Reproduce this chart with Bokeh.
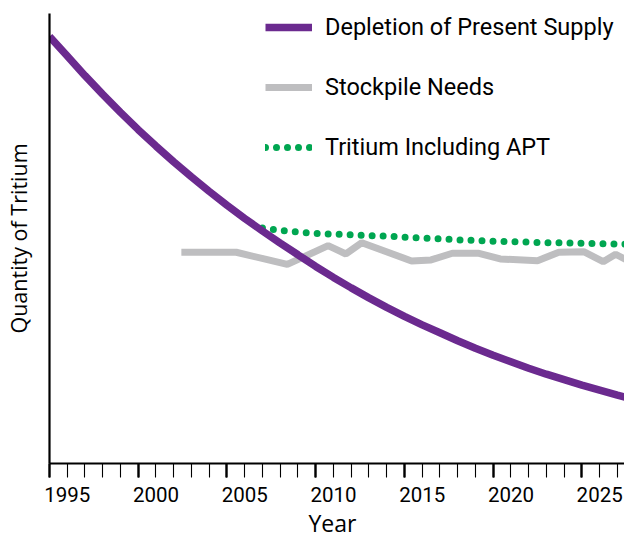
from bokeh.plotting import figure
from bokeh.models import (Range1d, FixedTicker, LinearAxis, Legend, LegendItem, Title)
from bokeh.embed import file_html
from bokeh.resources import INLINE

# ---- data (y in arbitrary "quantity" units) ----
depletion_years = list(range(1995, 2029))
depletion_values = [428.0, 408.4, 388.7, 369.9, 351.9, 334.6, 318.1, 302.3, 287.2, 272.7,
                    258.9, 245.6, 233.0, 220.8, 209.2, 197.5, 186.5, 176.0, 166.0, 156.5,
                    147.5, 139.0, 131.0, 123.0, 115.5, 108.5, 102.0, 95.5, 89.5, 84.0,
                    78.5, 73.5, 68.5, 64.0]

stockpile_years = [2002.43, 2005.52, 2008.4, 2010.7, 2011.7, 2012.6, 2015.4, 2016.5, 2017.7,
                   2019.2, 2020.4, 2022.5, 2023.7, 2025.1, 2026.2, 2026.9, 2027.8]
stockpile_values = [211.7, 211.7, 199.5, 218.3, 210.0, 221.3, 203.0, 204.0, 210.7,
                    210.7, 205.0, 203.3, 211.7, 212.3, 202.3, 209.7, 201.3]

apt_years = [2007.0, 2008.0, 2009.0, 2010, 2012, 2014, 2016, 2018, 2020, 2022, 2024, 2026, 2028]
apt_values = [236.0, 233.5, 232.0, 230.5, 229.2, 227.8, 226.0, 224.2, 222.8, 221.8, 221.0, 220.3, 219.6]

major_ticks = [1995, 2000, 2005, 2010, 2015, 2020, 2025]
minor_ticks = list(range(1995, 2028))
tick_labels = ["1995", "2000", "2005", "2010", "2015", "2020", "2025"]

PURPLE = "#6B2A8F"
GRAY = "#BEBEC0"
GREEN = "#00A651"
COND = "Roboto"
SANS = "Open Sans"

p = figure(width=624, height=538, output_backend="svg", toolbar_location=None,
           x_range=Range1d(1995, 2027.4), y_range=Range1d(0, 451),
           x_axis_type=None, y_axis_type=None,
           min_border_left=41, min_border_right=0, min_border_top=13, min_border_bottom=74)
p.outline_line_color = None
p.xgrid.visible = False
p.ygrid.visible = False

# ---- glyphs ----
r_gray = p.line(stockpile_years, stockpile_values, line_color=GRAY, line_width=7, line_cap="butt")
r_green = p.line(apt_years, apt_values, line_color=GREEN, line_width=7,
                 line_dash="0 11", line_cap="round")
r_purple = p.line(depletion_years, depletion_values, line_color=PURPLE, line_width=7.5)

# ---- axes ----
xa = LinearAxis(ticker=FixedTicker(ticks=major_ticks, minor_ticks=minor_ticks))
xa.axis_line_width = 2.2
xa.axis_line_color = "black"
xa.major_tick_out = 14
xa.major_tick_in = 0
xa.minor_tick_out = 14
xa.minor_tick_in = 0
xa.major_tick_line_width = 2.4
xa.minor_tick_line_width = 1.1
xa.major_tick_line_color = "black"
xa.minor_tick_line_color = "black"
xa.major_label_overrides = {t: "" for t in major_ticks}
xa.major_label_text_font_size = "0px"
xa.major_label_standoff = 0
p.add_layout(xa, "below")

label_pos = [t + 1 for t in major_ticks]
xb = LinearAxis(ticker=FixedTicker(ticks=label_pos, minor_ticks=[]))
xb.axis_line_color = None
xb.major_tick_line_color = None
xb.minor_tick_line_color = None
xb.major_tick_out = 0
xb.major_tick_in = 0
xb.major_label_overrides = {lp: lab for lp, lab in zip(label_pos, tick_labels)}
xb.major_label_text_font = COND
xb.major_label_text_font_size = "20.5px"
xb.major_label_text_color = "black"
xb.major_label_standoff = 9
p.add_layout(xb, "below")

ya = LinearAxis(ticker=FixedTicker(ticks=[]))
ya.axis_line_width = 2.2
ya.axis_line_color = "black"
ya.major_tick_line_color = None
ya.minor_tick_line_color = None
ya.major_tick_out = 0
ya.major_label_standoff = 0
ya.axis_label = "Quantity of Tritium"
ya.axis_label_text_font = SANS
ya.axis_label_text_font_size = "21.5px"
ya.axis_label_text_font_style = "normal"
ya.axis_label_text_color = "black"
ya.axis_label_standoff = 17
p.add_layout(ya, "left")

year_title = Title(text="Year", align="left", offset=259, standoff=0,
                   text_font=SANS, text_font_size="23px", text_font_style="normal",
                   text_color="black")
p.add_layout(year_title, "below")

# ---- legend ----
legend = Legend(items=[LegendItem(label="Depletion of Present Supply", renderers=[r_purple]),
                       LegendItem(label="Stockpile Needs", renderers=[r_gray]),
                       LegendItem(label="Tritium Including APT", renderers=[r_green])],
                location=(216, 302), padding=0, margin=0, spacing=32,
                glyph_width=47, glyph_height=28, label_height=28, label_standoff=13,
                label_text_font=COND, label_text_font_size="23.5px",
                label_text_color="black", border_line_color=None,
                background_fill_alpha=0)
p.add_layout(legend)

open("out.html", "w").write(file_html(p, INLINE))
